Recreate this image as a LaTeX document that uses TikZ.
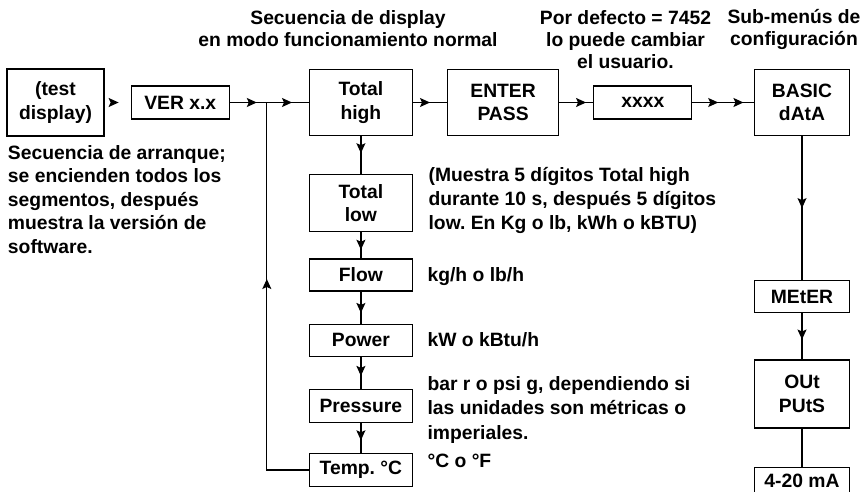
\documentclass[tikz,border=0pt]{standalone}
\usepackage{fontspec}
\setmainfont{Liberation Sans}
\usetikzlibrary{arrows.meta, positioning, decorations.markings}
\frenchspacing

\begin{document}
\begin{tikzpicture}[x=1pt, y=1pt, line width=1.2pt,
    font=\bfseries\fontsize{19.3}{23.5}\selectfont,
    box/.style={draw, align=center, inner sep=0pt},
    note/.style={inner sep=0pt, align=left},
    head/.style={inner sep=0pt, align=center, font=\bfseries\fontsize{19.3}{22}\selectfont},
    tip/.style={postaction={decorate}, decoration={markings,
        mark=at position #1 with {\arrow{Stealth[length=10pt, width=9pt, inset=2pt]}}}},
    tiptwo/.style 2 args={postaction={decorate}, decoration={markings,
        mark=at position #1 with {\arrow{Stealth[length=10pt, width=9pt, inset=2pt]}},
        mark=at position #2 with {\arrow{Stealth[length=10pt, width=9pt, inset=2pt]}}}}]
    \useasboundingbox (0,0) rectangle (865,-492);

    % Start-up row
    \node [box, minimum width=97pt, minimum height=67pt] (test) at (55.5,-102.5) {(test\\display)};
    \node [box, minimum width=98pt, minimum height=33pt, right=26pt of test] (ver) {VER x.x};
    \node [box, minimum width=103pt, minimum height=66pt, right=79pt of ver] (high) {Total\\high};
    \node [box, minimum width=111pt, minimum height=66pt, right=34pt of high] (enter) {ENTER\\PASS};
    \node [box, minimum width=98pt, minimum height=33pt, right=34pt of enter] (code) {xxxx};
    \node [box, minimum width=95pt, minimum height=66pt, right=61.5pt of code] (basic) {BASIC\\dAtA};
    \coordinate [left=42pt of high] (loop);

    % Normal display sequence
    \node [box, minimum width=103pt, minimum height=57pt, below=38pt of high] (low) {Total\\low};
    \node [box, minimum width=103pt, minimum height=32pt, below=26pt of low] (flow) {Flow};
    \node [box, minimum width=103pt, minimum height=32pt, below=32pt of flow] (power) {Power};
    \node [box, minimum width=103pt, minimum height=33pt, below=32pt of power] (press) {Pressure};
    \node [box, minimum width=103pt, minimum height=33pt, below=30pt of press] (temp) {Temp. °C};

    % Sub-menus
    \node [box, minimum width=95pt, minimum height=32pt, below=144pt of basic] (meter) {MEtER};
    \node [box, minimum width=95pt, minimum height=68pt, below=46pt of meter] (outs) {OUt\\PUtS};
    \node [box, minimum width=95pt, minimum height=28pt, below=38pt of outs] (ma) {4-20 mA};

    % Headings
    \node [head] (seqhead) at (348,-29) {Secuencia de display\\en modo funcionamiento normal};
    \node [head] (passhead) at (625.5,-40) {Por defecto = 7452\\lo puede cambiar\\el usuario.};
    \node [head] (subhead) at (794,-29) {Sub-menús de\\configuración};

    % Notes
    \node [note, below=8pt of test.south west, anchor=north west, xshift=1pt] (boot) {Secuencia de arranque;\\se encienden todos los\\segmentos, después\\muestra la versión de\\software.};
    \node [note, right=15pt of low, yshift=2.5pt, font=\bfseries\fontsize{19.3}{24}\selectfont] (lownote) {(Muestra 5 dígitos Total high\\durante 10 s, después 5 dígitos\\low. En Kg o lb, kWh o kBTU)};
    \node [note, right=14pt of flow, yshift=-2pt] (flownote) {kg/h o lb/h};
    \node [note, right=14pt of power] (powernote) {kW o kBtu/h};
    \node [note, right=14pt of press, yshift=-4pt, font=\bfseries\fontsize{19.3}{24.5}\selectfont] (pressnote) {bar r o psi g, dependiendo si\\las unidades son métricas o\\imperiales.};
    \node [note, right=14pt of temp, yshift=9pt] (tempnote) {°C o °F};

    % Connections
    \path [tip=0.54] (test) -- (ver);
    \draw [tip=0.73] (ver) -- (loop);
    \draw [tip=0.6] (loop) -- (high);
    \draw [tip=0.5] (high) -- (enter);
    \draw [tip=0.79] (enter) -- (code);
    \draw [tiptwo={0.42}{0.83}] (code) -- (basic);

    \draw [tip=0.45] (high) -- (low);
    \draw [tip=0.67] (low) -- (flow);
    \draw [tip=0.67] (flow) -- (power);
    \draw [tip=0.6] (power) -- (press);
    \draw [tip=0.58] (press) -- (temp);
    \draw [tip=233pt] (temp.west) -| (loop);

    \draw [tip=0.5] (basic) -- (meter);
    \draw [tip=0.57] (meter) -- (outs);
    \draw (outs) -- (ma);

\end{tikzpicture}
\end{document}
